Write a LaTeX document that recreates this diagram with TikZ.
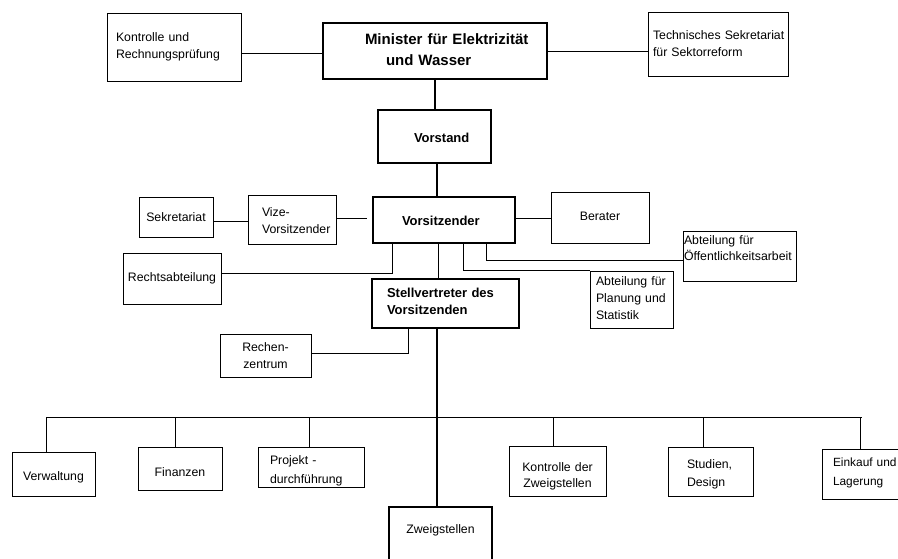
\documentclass[tikz,border=0pt]{standalone}
\usepackage{fontspec}
\setmainfont{Liberation Sans}
\begin{document}
\begin{tikzpicture}[x=1pt,y=-1pt,
  bx/.style={draw, line width=0.9pt, inner ysep=0pt, font=\fontsize{12.3}{17}\selectfont},
  bb/.style={draw, line width=2.6pt, inner ysep=0pt, font=\fontsize{13}{16.5}\selectfont\bfseries},
  bbr/.style={draw, line width=2.6pt, inner ysep=0pt, font=\fontsize{12.3}{17}\selectfont},
  thin/.style={line width=0.9pt},
  spine/.style={line width=1.8pt}]
\useasboundingbox (0,0) rectangle (898,559);
\clip (0,0) rectangle (898,559);

% top row
\node[bx, align=left, minimum width=134pt, minimum height=68pt, text width=116pt, inner xsep=9pt, text height=8.5pt, text depth=19.5pt] (kr) at (174,47) {Kontrolle und\\\mbox{Rechnungsprüfung}};
\node[bb, align=left, font=\fontsize{15}{21}\selectfont\bfseries, minimum width=224pt, minimum height=56pt, text width=140pt, inner xsep=42pt, text height=8pt, text depth=20pt] (min) at (435,51) {\mbox{Minister für Elektrizität}\\\hspace*{21pt}\mbox{und Wasser}};
\node[bx, align=left, font=\fontsize{12.3}{16.7}\selectfont, minimum width=140pt, minimum height=64pt, text width=130pt, inner xsep=5pt, text height=10pt, text depth=18pt] (ts) at (718,44) {\mbox{Technisches Sekretariat}\\\mbox{für Sektorreform}};

% Vorstand
\node[bb, align=left, minimum width=113pt, minimum height=53pt, text width=41pt, inner xsep=36pt, text height=19.8pt, text depth=8.2pt] (vs) at (434.5,136.5) {\mbox{Vorstand}};

% Vorsitzender row
\node[bb, align=left, minimum width=142pt, minimum height=46pt, text width=84pt, inner xsep=29pt, text height=19.7pt, text depth=8.3pt] (vz) at (444,220) {\mbox{Vorsitzender}};
\node[bx, align=center, minimum width=74pt, minimum height=40pt, text width=70pt, inner xsep=2pt, text height=18.7pt, text depth=9.3pt] (sk) at (176,217) {\mbox{Sekretariat}};
\node[bx, align=left, font=\fontsize{12.3}{16.7}\selectfont, minimum width=88pt, minimum height=49pt, text width=60pt, inner xsep=14pt, text height=11.2pt, text depth=16.8pt] (vv) at (292,219.5) {Vize-\\\mbox{Vorsitzender}};
\node[bx, align=center, minimum width=98pt, minimum height=51pt, text width=94pt, inner xsep=2pt, text height=17.2pt, text depth=10.8pt] (be) at (600,217.5) {Berater};
\node[bx, align=center, minimum width=98pt, minimum height=51pt, text width=94pt, inner xsep=2pt, text height=16.5pt, text depth=11.5pt] (ra) at (172,278.5) {\mbox{Rechtsabteilung}};
\node[bx, align=left, font=\fontsize{12.3}{16}\selectfont, minimum width=113pt, minimum height=50pt, text width=111pt, inner xsep=1pt, text height=3pt, text depth=25pt] (oe) at (739.5,256) {\mbox{Abteilung für}\\\mbox{Öffentlichkeitsarbeit}};
\node[bx, align=left, minimum width=83pt, minimum height=57pt, text width=71pt, inner xsep=6pt, text height=0.5pt, text depth=27.5pt] (pl) at (631.5,299.5) {\mbox{Abteilung für}\\\mbox{Planung und}\\Statistik};

% Stellvertreter
\node[bb, align=left, font=\fontsize{13}{16.3}\selectfont\bfseries, minimum width=147pt, minimum height=49pt, text width=117pt, inner xsep=15pt, text height=8.2pt, text depth=19.8pt] (st) at (445.5,303.5) {\mbox{Stellvertreter des}\\\mbox{Vorsitzenden}};
\node[bx, align=center, font=\fontsize{12.3}{16.6}\selectfont, minimum width=91pt, minimum height=43pt, text width=87pt, inner xsep=2pt, text height=10.2pt, text depth=17.8pt] (rz) at (265.5,355.5) {Rechen-\\zentrum};

% bottom row
\node[bx, align=center, minimum width=83pt, minimum height=44pt, text width=79pt, inner xsep=2pt, text height=20pt, text depth=8pt] (vw) at (53.5,474) {\mbox{Verwaltung}};
\node[bx, align=center, minimum width=84pt, minimum height=43pt, text width=80pt, inner xsep=2pt, text height=22.2pt, text depth=5.8pt] (fi) at (180,468.5) {Finanzen};
\node[bx, align=left, font=\fontsize{12.3}{19}\selectfont, minimum width=106pt, minimum height=40pt, text width=82pt, inner xsep=12pt, text height=11.3pt, text depth=16.7pt] (pd) at (311,467) {\mbox{Projekt -}\\\mbox{durchführung}};
\node[bx, align=center, font=\fontsize{12.3}{16.3}\selectfont, minimum width=97pt, minimum height=50pt, text width=93pt, inner xsep=2pt, text height=14pt, text depth=14pt] (kz) at (557.5,471) {\mbox{Kontrolle der}\\\mbox{Zweigstellen}};
\node[bx, align=left, font=\fontsize{12.3}{17.7}\selectfont, minimum width=85pt, minimum height=49pt, text width=47pt, inner xsep=19pt, text height=10.8pt, text depth=17.2pt] (sd) at (710.5,471.5) {\mbox{Studien,}\\Design};
\node[bx, align=left, font=\fontsize{11.9}{18.3}\selectfont, minimum width=98pt, minimum height=50pt, text width=76pt, inner xsep=11pt, text height=6.7pt, text depth=21.3pt] (ek) at (871,474) {\mbox{Einkauf und}\\Lagerung};
\node[bbr, align=center, minimum width=103pt, minimum height=73pt, text width=99pt, inner xsep=2pt, text height=3.8pt, text depth=24.2pt] (zw) at (440.5,543.5) {\mbox{Zweigstellen}};

\coordinate (bus) at (0,417);

% connectors
\draw[thin] ([yshift=-6pt]kr.east) -- ([yshift=-2pt]min.west);
\draw[thin] (min.east) -- ([yshift=-7pt]ts.west);
\draw[spine] (min.south) -- (min.south |- vs.north);
\draw[spine] ([xshift=2.5pt]vs.south) -- ([xshift=2.5pt]vs.south |- vz.north);
\draw[thin] ([yshift=-4pt]sk.east) -- ([yshift=-1.5pt]vv.west);
\draw[thin, shorten >=5pt] ([yshift=1.5pt]vv.east) -- ([yshift=2pt]vz.west);
\draw[thin] ([yshift=2pt]vz.east) -- ([yshift=-0.5pt]be.west);
\draw[thin] ([yshift=5.5pt]ra.east) -| ([xshift=-52pt]vz.south);
\draw[thin] ([xshift=-6pt]vz.south) -- ([xshift=-6pt]vz.south |- st.north);
\draw[thin] ([xshift=19pt]vz.south) |- (pl.north west);
\draw[thin] ([xshift=42pt]vz.south) |- ([yshift=-4pt]oe.west);
\draw[thin] ([xshift=-37.5pt]st.south) |- ([yshift=2.5pt]rz.east);
\draw[spine] ([xshift=-8.5pt]st.south) -- ([xshift=-8.5pt]st.south |- zw.north);

\draw[thin] ([xshift=-7.5pt]vw.north) -- ([xshift=-7.5pt]vw.north |- bus) -- ([xshift=-9pt]ek.north |- bus);
\draw[thin] ([xshift=-11pt]ek.north |- bus) -- ([xshift=-11pt]ek.north);
\draw[thin] ([xshift=-5pt]fi.north) -- ([xshift=-5pt]fi.north |- bus);
\draw[thin] ([xshift=-2pt]pd.north) -- ([xshift=-2pt]pd.north |- bus);
\draw[thin] ([xshift=-4.5pt]kz.north) -- ([xshift=-4.5pt]kz.north |- bus);
\draw[thin] ([xshift=-7.5pt]sd.north) -- ([xshift=-7.5pt]sd.north |- bus);
\end{tikzpicture}
\end{document}
